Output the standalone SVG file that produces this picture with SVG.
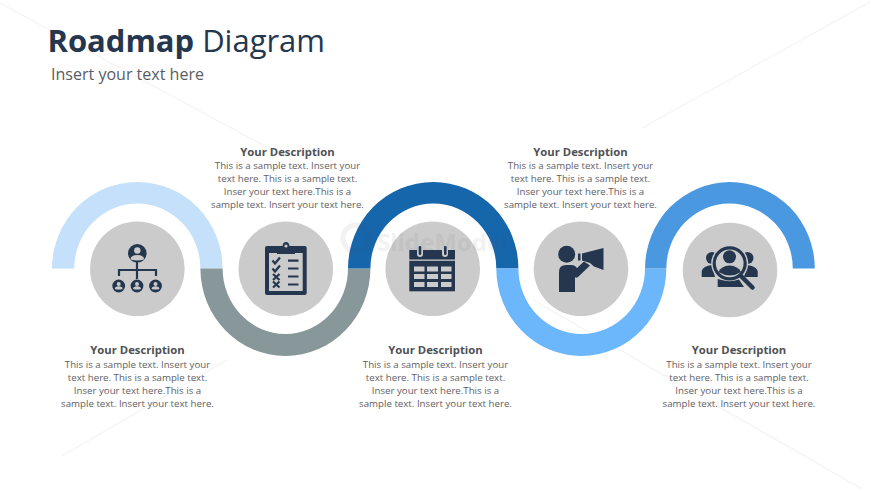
<svg xmlns="http://www.w3.org/2000/svg" width="870" height="489" viewBox="0 0 870 489">
<style>
text{font-family:"Open Sans","Noto Sans","Liberation Sans",sans-serif}
.t{font-size:9.7px;fill:#5f6064;text-anchor:middle}
.h{font-size:11.3px;font-weight:700;fill:#505155;text-anchor:middle}
.c{fill:#cbcbcb}
.i{fill:#24374f}
.l{fill:#cbcbcb}
.s{fill:none;stroke:#24374f}
.bg{stroke:#f3f3f3;stroke-width:1.2;fill:none}
</style>
<rect width="870" height="489" fill="#fff"/>
<g id="backdrop">
<path class="bg" d="M0 3L270 149M870 2L642 128M227 360L62 456M533 300L862 489"/>
</g>
<g id="title"><text x="47.500" y="52" font-size="31" fill="#24374f" textLength="277.500" lengthAdjust="spacingAndGlyphs"><tspan font-weight="700">Roadmap</tspan> Diagram</text>
<text x="51" y="80" font-size="16" fill="#595c63" textLength="153" lengthAdjust="spacingAndGlyphs">Insert your text here</text></g>
<g id="connectors">
<path id="arc1" fill="#c5e0fb" d="M52 268.500A85.300 86.500 0 0 1 222.600 268.500H200.400A63.100 65 0 0 0 74.200 268.500Z"/>
<path id="arc2" fill="#87979a" d="M200.400 268.500A85 87.500 0 0 0 370.400 268.500H348A62.700 65.500 0 0 1 222.600 268.500Z"/>
<path id="arc3" fill="#1666ac" d="M348 268.500A85.200 86.500 0 0 1 518.400 268.500H496.300A62.950 65 0 0 0 370.400 268.500Z"/>
<path id="arc4" fill="#6cb6fb" d="M496.300 268.500A85 87.500 0 0 0 666.300 268.500H645A63.300 65.500 0 0 1 518.400 268.500Z"/>
<path id="arc5" fill="#4a98e0" d="M645 268.500A84.900 86.500 0 0 1 814.800 268.500H792.800A63.250 65 0 0 0 666.300 268.500Z"/>
</g>
<g id="node1"><circle class="c" cx="137.300" cy="268.700" r="47.300"/>
<circle class="i" cx="137.300" cy="253.300" r="9.300"/><circle class="l" cx="137.300" cy="250.500" r="3.200"/><path class="l" d="M130.500 259.500q0-4.500 6.800-4.500t6.800 4.500q-6.800 2-13.600 0z"/>
<path class="s" stroke-width="2.200" d="M137 262V279M119 276V270H156V276"/>
<circle class="i" cx="118.700" cy="286" r="6.400"/><circle class="l" cx="118.700" cy="284" r="2"/><path class="l" d="M114.800 289q0-2.700 3.900-2.700t3.900 2.700q-3.900 1.200-7.800 0z"/>
<circle class="i" cx="137" cy="286" r="6.400"/><circle class="l" cx="137" cy="284" r="2"/><path class="l" d="M133.100 289q0-2.700 3.900-2.700t3.900 2.700q-3.900 1.200-7.800 0z"/>
<circle class="i" cx="155.500" cy="286" r="6.400"/><circle class="l" cx="155.500" cy="284" r="2"/><path class="l" d="M151.600 289q0-2.700 3.900-2.700t3.900 2.700q-3.900 1.200-7.800 0z"/>
</g>
<g id="node2"><circle class="c" cx="285.800" cy="268.700" r="47.300"/>
<rect class="i" x="265" y="246" width="41.700" height="49" rx="2"/><rect class="l" x="269" y="253" width="33.700" height="38"/>
<path class="i" d="M277 254V246H282.500Q283 242 286 242T289.500 246H295V254Z"/><circle class="l" cx="286" cy="246" r="1.600"/>
<path class="s" stroke-width="2.200" d="M272.500 260.500L275 263.500L280 257.500M272.500 268.500L275 271.500L280 265.500M273 274L279.500 280M279.500 274L273 280M273 281.500L279.500 287.500M279.500 281.500L273 287.500M288 260.700H298.500M288 268.500H298.500M288 276.500H298.500M288 284.500H298.500"/>
</g>
<g id="node3"><circle class="c" cx="432.700" cy="268.700" r="47.300"/>
<path class="i" d="M409.300 250H417V254A3 3 0 0 0 423 254V250H442V254A3 3 0 0 0 448 254V250H455V259.500H409.300Z"/>
<rect class="i" x="418.700" y="246" width="2.600" height="9" rx="1.300"/><rect class="i" x="444" y="246" width="2.600" height="9" rx="1.300"/>
<rect class="i" x="409.300" y="260.800" width="45.700" height="30.500"/>
<g class="l"><rect x="414" y="266.500" width="10.500" height="5"/><rect x="427" y="266.500" width="11" height="5"/><rect x="441" y="266.500" width="10.500" height="5"/><rect x="414" y="274" width="10.500" height="5"/><rect x="427" y="274" width="11" height="5"/><rect x="441" y="274" width="10.500" height="5"/><rect x="414" y="282" width="10.500" height="5"/><rect x="427" y="282" width="11" height="5"/><rect x="441" y="282" width="10.500" height="5"/></g>
</g>
<g id="node4"><circle class="c" cx="581" cy="268.700" r="47.300"/>
<circle class="i" cx="566.700" cy="254.300" r="8.500"/>
<path class="i" d="M559 292V272Q559 265 566 265H572Q575 265 577 268L584 261.500L590 265.500L578 277Q576 278.500 575 277V292Z"/>
<path class="i" d="M578 253.500H580.500V260.500H578ZM582 253.500L603.500 248V270L594 266.500L590 263L582 260.500Z"/>
</g>
<g id="node5"><circle class="c" cx="730" cy="270" r="47.300"/>
<circle class="i" cx="712" cy="258" r="6"/><circle class="i" cx="747.500" cy="258" r="6"/>
<path class="i" d="M701.700 277V271Q703 266 712 265L715 277ZM757.700 277V271Q756 266 747 265L744 277Z"/>
<circle class="c" cx="729.700" cy="263.300" r="18.500"/>
<circle cx="729.700" cy="263.300" r="15.500" fill="none" stroke="#24374f" stroke-width="3.200"/>
<circle class="i" cx="729.500" cy="256.800" r="6.500"/>
<path class="i" d="M718.500 272Q721 266 729.500 265.500Q738 266 741 272Q730 279 718.500 272Z"/>
<path class="i" d="M717.700 287V279Q729 283 739 279.500L744 287Z"/>
<path class="s" stroke-width="4.500" stroke-linecap="round" d="M741 276L752.500 287.500"/>
</g>
<g id="watermark" opacity=".07"><circle cx="356" cy="238" r="13" fill="none" stroke="#555" stroke-width="5"/><text x="377" y="251" font-size="24" font-weight="700" fill="#555">SlideModel<tspan font-size="7" font-weight="400">.com</tspan></text></g>
<g id="desc2"><text class="h" x="287.500" y="155.500">Your Description</text><text class="t" x="287.500" y="169">This is a sample text. Insert your</text><text class="t" x="287.500" y="182">text here. This is a sample text.</text><text class="t" x="287.500" y="195">Inser your text here.This is a</text><text class="t" x="287.500" y="208">sample text. Insert your text here.</text></g>
<g id="desc4"><text class="h" x="580.500" y="155.500">Your Description</text><text class="t" x="580.500" y="169">This is a sample text. Insert your</text><text class="t" x="580.500" y="182">text here. This is a sample text.</text><text class="t" x="580.500" y="195">Inser your text here.This is a</text><text class="t" x="580.500" y="208">sample text. Insert your text here.</text></g>
<g id="desc1"><text class="h" x="137.500" y="353.500">Your Description</text><text class="t" x="137.500" y="368">This is a sample text. Insert your</text><text class="t" x="137.500" y="381">text here. This is a sample text.</text><text class="t" x="137.500" y="394">Inser your text here.This is a</text><text class="t" x="137.500" y="407">sample text. Insert your text here.</text></g>
<g id="desc3"><text class="h" x="435.500" y="353.500">Your Description</text><text class="t" x="435.500" y="368">This is a sample text. Insert your</text><text class="t" x="435.500" y="381">text here. This is a sample text.</text><text class="t" x="435.500" y="394">Inser your text here.This is a</text><text class="t" x="435.500" y="407">sample text. Insert your text here.</text></g>
<g id="desc5"><text class="h" x="739" y="353.500">Your Description</text><text class="t" x="739" y="368">This is a sample text. Insert your</text><text class="t" x="739" y="381">text here. This is a sample text.</text><text class="t" x="739" y="394">Inser your text here.This is a</text><text class="t" x="739" y="407">sample text. Insert your text here.</text></g>
</svg>
